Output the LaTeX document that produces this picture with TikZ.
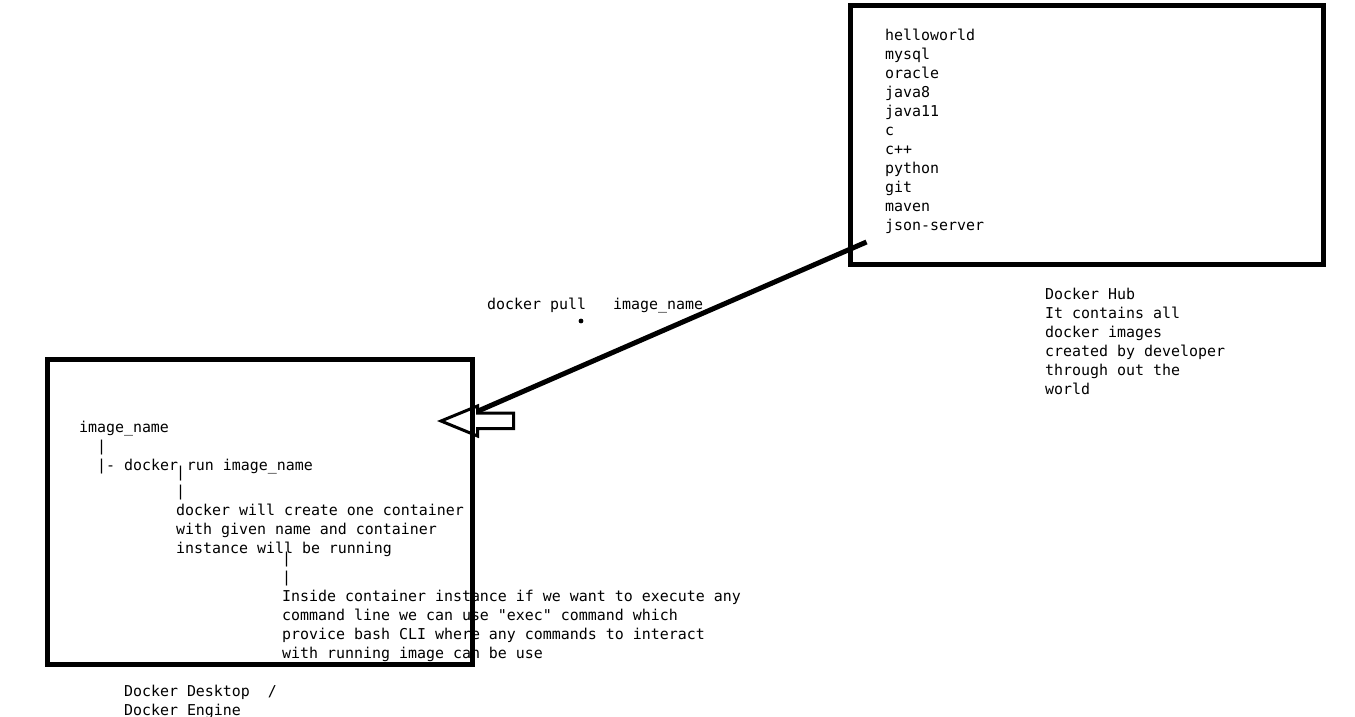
\documentclass[tikz,border=0pt]{standalone}
\usepackage{fontspec}
\newfontfamily\mono{DejaVu Sans Mono}
\begin{document}
\begin{tikzpicture}[x=1pt,y=-1pt,
  txt/.style={anchor=base west,inner sep=0pt,outer sep=0pt,font=\mono\fontsize{14.95}{19}\selectfont},
  frame/.style={draw=black,line width=5pt,anchor=north west,inner sep=0pt,outer sep=0pt}]
\useasboundingbox[fill=white] (0,0) rectangle (1355,716);
% boxes
\node[frame,minimum width=473pt,minimum height=259pt] (hub) at (850.5,5.5) {};
\node[frame,minimum width=425pt,minimum height=305pt] (desk) at (47.5,359.5) {};
% hub list
\foreach \t [count=\i] in {helloworld,mysql,oracle,java8,java11,c,c++,python,git,maven,json-server}
  \node[txt] (hl\i) at (885,{40+19*(\i-1)}) {\t};
% hub caption
\foreach \t [count=\i] in {Docker Hub,It contains all,docker images,created by developer,through out the,world}
  \node[txt] (hc\i) at (1045,{299+19*(\i-1)}) {\t};
% pull label
\node[txt] (pull) at (487,309) {docker pull\ \ \ image\_name};
\fill (581,321) circle (2.4pt) coordinate (dot);
% arrow
\coordinate (a1) at (866.5,242);
\coordinate (a2) at (477,411.5);
\draw[line width=5pt] (a1) -- (a2);
\draw[line width=3pt,line join=miter] (441,421) -- (477.5,406) -- (477.5,413) -- (513.5,413) -- (513.5,428.5) -- (477.5,428.5) -- (477.5,436) -- cycle;
% desktop text
\node[txt] (d1) at (79,432) {image\_name};
\node[txt] (d2) at (97,451) {|};
\node[txt] (d3) at (97,470) {|- docker run image\_name};
\foreach \t [count=\i] in {|,|,docker will create one container,with given name and container,instance will be running}
  \node[txt] (e\i) at (176,{477+19*(\i-1)}) {\t};
\foreach \t [count=\i] in {|,|,Inside container instance if we want to execute any,command line we can use "exec" command which,provice bash CLI where any commands to interact,with running image can be use}
  \node[txt] (f\i) at (282,{563+19*(\i-1)}) {\t};
\node[txt] (dd1) at (124,696) {Docker Desktop\ \ /};
\node[txt] (dd2) at (124,715) {Docker Engine};
\end{tikzpicture}
\end{document}
